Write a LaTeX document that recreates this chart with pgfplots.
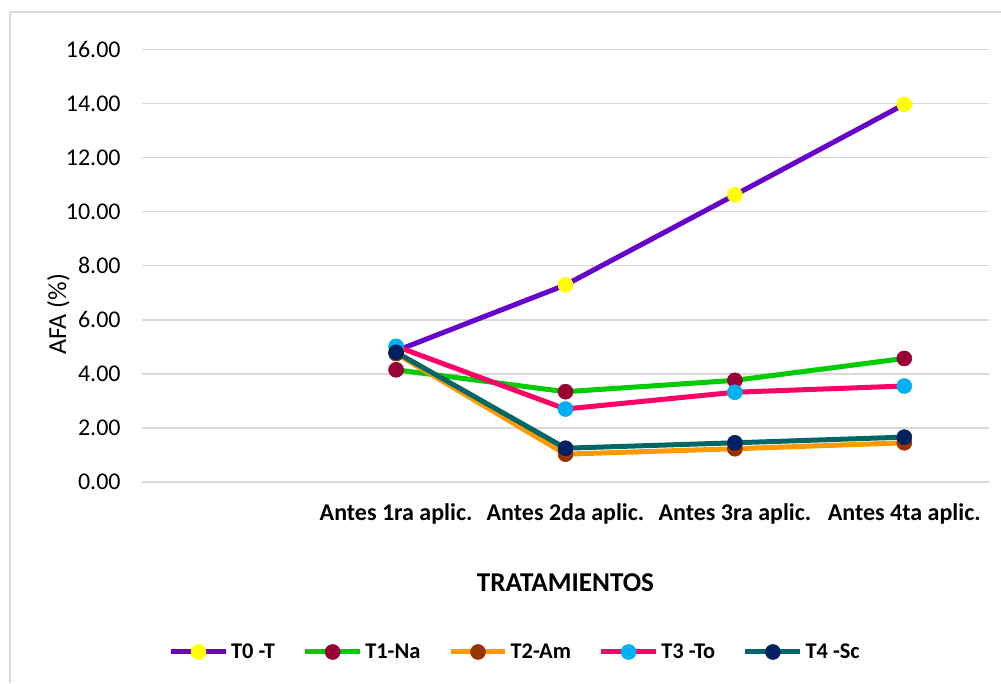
\documentclass[border=0pt]{standalone}
\usepackage{fontspec}
\setmainfont{Carlito}
\usepackage{pgfplots}
\pgfplotsset{compat=1.18}
\definecolor{gridc}{HTML}{D9D9D9}
\definecolor{c0l}{HTML}{6600CC}\definecolor{c0m}{HTML}{FFFF00}
\definecolor{c1l}{HTML}{00CC00}\definecolor{c1m}{HTML}{990033}
\definecolor{c2l}{HTML}{FF9900}\definecolor{c2m}{HTML}{993300}
\definecolor{c3l}{HTML}{FF0066}\definecolor{c3m}{HTML}{00B0F0}
\definecolor{c4l}{HTML}{006666}\definecolor{c4m}{HTML}{002060}
\begin{document}
\begin{tikzpicture}
\useasboundingbox (0,0) rectangle (750.75pt,512.25pt);
\draw[gridc, line width=1.5pt] (7.5pt,0) -- (7.5pt,503.25pt) -- (752pt,503.25pt);
\begin{axis}[
  at={(106.5pt,150.75pt)}, anchor=south west,
  scale only axis, width=635.25pt, height=324.4pt,
  xmin=-0.5, xmax=4.5, ymin=0, ymax=16,
  xtick={1,2,3,4},
  xticklabels={Antes 1ra aplic., Antes 2da aplic., Antes 3ra aplic., Antes 4ta aplic.},
  ytick={0,2,...,16},
  major tick length=0pt,
  axis line style={draw=none},
  ymajorgrids, grid style={gridc, line width=1.1pt},
  /pgf/number format/.cd, fixed, fixed zerofill, precision=2, assume math mode=true,
  /pgfplots/.cd,
  yticklabel style={font=\fontsize{18}{21}\selectfont, xshift=-12.5pt},
  xticklabel style={font=\fontsize{18}{21}\selectfont\bfseries, yshift=-12.5pt},
  xlabel={TRATAMIENTOS},
  xlabel style={at={(axis description cs:0.5,0)}, anchor=center, yshift=-75.75pt, font=\fontsize{20.4}{24}\selectfont\bfseries},
  ylabel={AFA (\%)},
  ylabel style={at={(axis description cs:0,0.388)}, anchor=center, yshift=62.6pt, font=\fontsize{19.5}{23}\selectfont},
  legend columns=5,
  legend style={at={(0.441,-0.393)}, anchor=center, draw=none, fill=none,
    font=\fontsize{16.8}{20}\selectfont\bfseries,
    /tikz/every even column/.append style={column sep=18.75pt},
    /tikz/every odd column/.append style={column sep=0pt}},
  legend image code/.code={\draw[#1, mark repeat=2, mark phase=2] plot coordinates {(0pt,0pt) (20.6pt,0pt) (41.2pt,0pt)};},
  every axis plot/.append style={line width=3.75pt, mark=*, mark size=5.6pt},
]
\addplot[c0l, mark options={fill=c0m, draw=c0m, line width=0.5pt}] coordinates {(1,4.85)(2,7.29)(3,10.62)(4,13.97)};
\addlegendentry{T0 -T}
\addplot[c1l, mark options={fill=c1m, draw=c1m, line width=0.5pt}] coordinates {(1,4.15)(2,3.34)(3,3.76)(4,4.57)};
\addlegendentry{T1-Na}
\addplot[c2l, mark options={fill=c2m, draw=c2m, line width=0.5pt}] coordinates {(1,4.75)(2,1.03)(3,1.23)(4,1.45)};
\addlegendentry{T2-Am}
\addplot[c3l, mark options={fill=c3m, draw=c3m, line width=0.5pt}] coordinates {(1,5.02)(2,2.70)(3,3.32)(4,3.55)};
\addlegendentry{T3 -To}
\addplot[c4l, mark options={fill=c4m, draw=c4m, line width=0.5pt}] coordinates {(1,4.80)(2,1.25)(3,1.45)(4,1.66)};
\addlegendentry{T4 -Sc}
\end{axis}
\end{tikzpicture}
\end{document}
